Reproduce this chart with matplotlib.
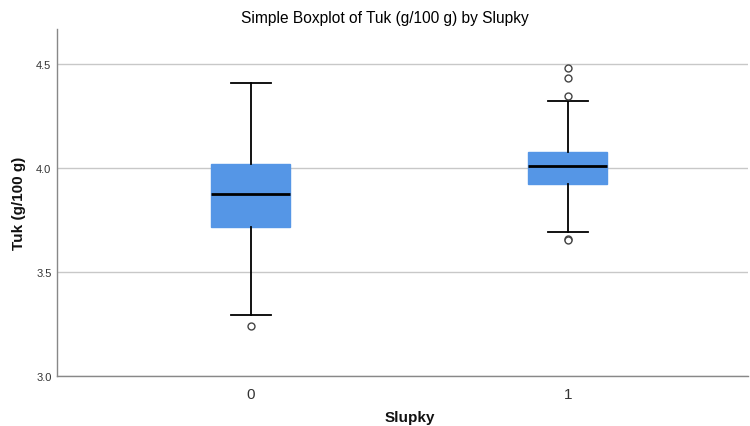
import numpy as np
import matplotlib; matplotlib.use('Agg')
import matplotlib.pyplot as plt

plt.rcParams['font.family'] = ['Liberation Sans', 'DejaVu Sans']

# group labels and box statistics
groups = ['0', '1']
q1 = [3.716, 3.923]
med = [3.875, 4.010]
q3 = [4.019, 4.077]
whislo = [3.293, 3.690]
whishi = [4.409, 4.322]
fliers = [[3.240], [4.480, 4.433, 4.346, 3.659, 3.654]]

yticks = [3.0, 3.5, 4.0, 4.5]

stats = []
for i in range(len(groups)):
    stats.append(dict(label=groups[i], q1=q1[i], med=med[i], q3=q3[i],
                      whislo=whislo[i], whishi=whishi[i], fliers=fliers[i]))

fig = plt.figure(figsize=(7.5, 4.27), dpi=100)
ax = fig.add_axes([0.076, 0.117, 0.921, 0.813])  # [left,bottom,width,height]

ax.set_axisbelow(True)
ax.yaxis.grid(True, color='#c8c8c8', linewidth=1.0)

ax.bxp(stats, positions=[0, 1], widths=0.249, patch_artist=True,
       boxprops=dict(facecolor='#5596e6', edgecolor='#5596e6', linewidth=1.0),
       medianprops=dict(color='black', linewidth=2.0),
       whiskerprops=dict(color='black', linewidth=1.3),
       capprops=dict(color='black', linewidth=1.3),
       capwidths=0.125,
       flierprops=dict(marker='o', markersize=5, markerfacecolor='white',
                       markeredgecolor='#444444', markeredgewidth=1.0))

ax.set_xlim(-0.612, 1.568)
ax.set_ylim(3.0, 4.668)
ax.set_yticks(yticks)
ax.set_yticklabels(['%.1f' % v for v in yticks])
ax.set_xticks([0, 1])
ax.set_xticklabels(groups)

for s in ['top', 'right']:
    ax.spines[s].set_visible(False)
for s in ['left', 'bottom']:
    ax.spines[s].set_color('#888888')
    ax.spines[s].set_linewidth(1.0)

ax.tick_params(axis='y', length=0, labelsize=8, labelcolor='#333333', pad=4)
ax.tick_params(axis='x', length=0, labelsize=11, labelcolor='#333333', pad=8)

# axis titles placed as in the reference
fig.text(410/750., 1-418/427., 'Slupky', ha='center', va='center',
         fontsize=11, fontweight='bold', color='#111111')
fig.text(19/750., 1-203/427., 'Tuk (g/100 g)', ha='center', va='center',
         rotation=90, fontsize=11, fontweight='bold', color='#111111')
fig.text(385/750., 1-18/427., 'Simple Boxplot of Tuk (g/100 g) by Slupky',
         ha='center', va='center', fontsize=11.2, color='#000000')

fig.savefig('out.png', dpi=100)
